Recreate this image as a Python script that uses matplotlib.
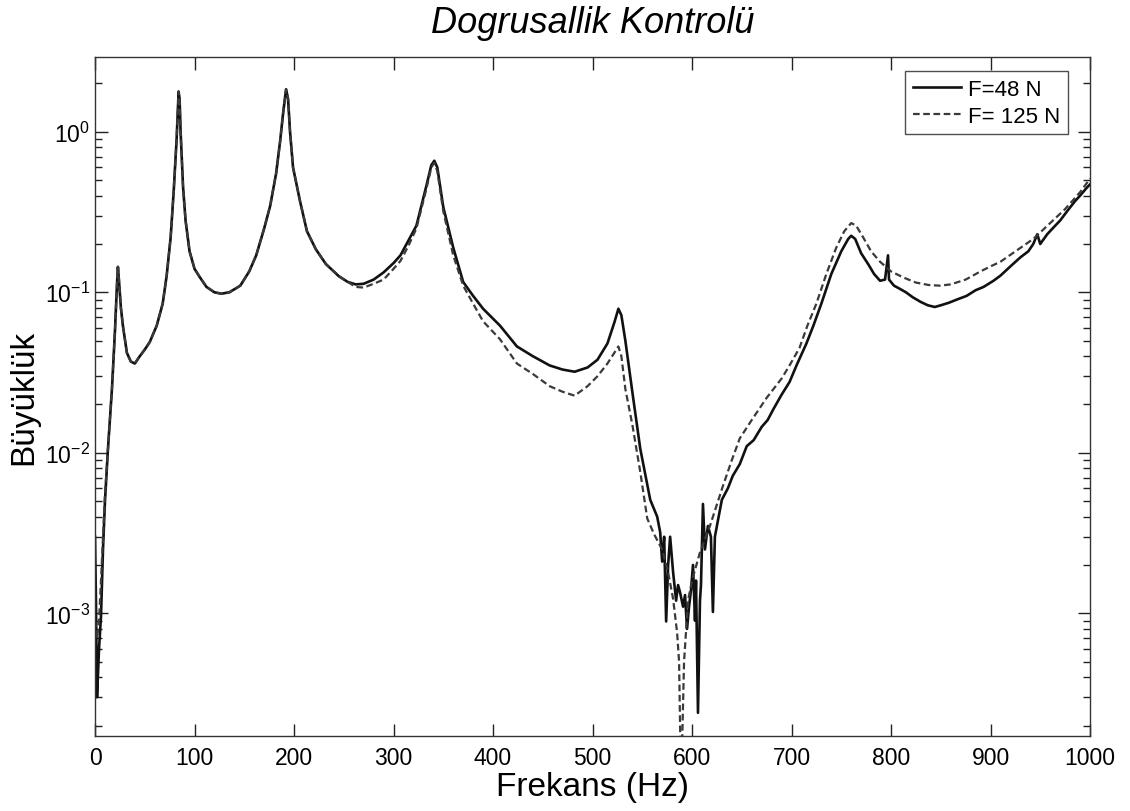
import numpy as np
import matplotlib
matplotlib.use("Agg")
import matplotlib.pyplot as plt
from matplotlib.ticker import LogLocator, FixedLocator, NullFormatter

plt.rcParams['font.family'] = ['Liberation Sans', 'DejaVu Sans']
plt.rcParams['mathtext.fontset'] = 'custom'
plt.rcParams['mathtext.rm'] = 'Liberation Sans'
plt.rcParams['mathtext.it'] = 'Liberation Sans:italic'

# start of each measurement (0-13 Hz)
f_start_48 = [0, 1, 2, 4, 6, 8, 10]
mag_start_48 = [0.003, 0.0011, 0.0003, 0.0006, 0.00096, 0.0025, 0.005]
f_start_125 = [0, 2, 4, 6, 8, 10]
mag_start_125 = [0.0009, 0.0007, 0.0009, 0.0016, 0.003, 0.0055]

# both forces give the same response here (13-254 Hz)
f_shared = [13, 17, 20, 22, 23, 24, 26, 28, 32, 36, 40, 45, 50, 55, 62, 68,
            72, 76, 79, 82, 84, 85, 86, 88.5, 91, 95, 100, 105, 112, 120, 127,
            135, 146, 155, 162, 170, 176, 182, 186, 189, 192, 194, 196, 199,
            206, 213, 222, 232, 245, 254]
mag_shared = [0.0106, 0.025, 0.057, 0.11, 0.144, 0.12, 0.08, 0.062, 0.042,
              0.037, 0.036, 0.04, 0.044, 0.049, 0.062, 0.085, 0.127, 0.22,
              0.42, 0.9, 1.78, 1.6, 1.0, 0.45, 0.28, 0.18, 0.14, 0.125, 0.108,
              0.1, 0.098, 0.1, 0.11, 0.135, 0.17, 0.25, 0.345, 0.55, 0.87,
              1.3, 1.84, 1.6, 1.0, 0.6, 0.37, 0.24, 0.185, 0.15, 0.126, 0.116]

# F = 48 N above 254 Hz
f_end_48 = [262, 270, 280, 290, 300, 307, 315, 323, 333, 338, 341, 344, 350,
            360, 370, 380, 390, 407, 424, 440, 457, 470, 482, 495, 505, 515,
            522, 526, 529, 533, 540, 548, 558, 565, 568, 570, 572, 574, 576,
            578, 581, 584, 586, 588, 591, 593, 595, 597, 599, 601, 603, 604,
            606, 608, 609, 611, 613, 616, 619, 621, 623, 625, 630, 636, 641,
            648, 655, 662, 670, 676, 682, 690, 698, 705, 715, 722, 730, 740,
            750, 757, 760, 764, 770, 777, 783, 789, 794, 797, 798, 803, 809,
            815, 822, 830, 837, 844, 850, 858, 866, 876, 885, 893, 903, 910,
            920, 930, 938, 943, 947, 950, 957, 965, 970, 977, 985, 990, 997,
            1000]
mag_end_48 = [0.112, 0.113, 0.12, 0.133, 0.152, 0.17, 0.21, 0.26, 0.46, 0.62,
              0.66, 0.6, 0.34, 0.19, 0.116, 0.095, 0.079, 0.062, 0.046, 0.04,
              0.035, 0.033, 0.032, 0.034, 0.038, 0.048, 0.065, 0.079, 0.072,
              0.05, 0.024, 0.0106, 0.0051, 0.004, 0.0032, 0.0021, 0.003,
              0.00089, 0.002, 0.003, 0.0018, 0.0012, 0.0015, 0.00135, 0.0011,
              0.0013, 0.0008, 0.0011, 0.0014, 0.002, 0.0009, 0.0016, 0.00024,
              0.0012, 0.0015, 0.0048, 0.0025, 0.0035, 0.003, 0.00102, 0.003,
              0.0035, 0.0051, 0.006, 0.0072, 0.0085, 0.011, 0.012, 0.0145,
              0.016, 0.0188, 0.023, 0.0276, 0.035, 0.048, 0.062, 0.085, 0.13,
              0.18, 0.215, 0.225, 0.215, 0.175, 0.15, 0.13, 0.118, 0.12, 0.17,
              0.12, 0.11, 0.105, 0.1, 0.093, 0.087, 0.083, 0.081, 0.083, 0.086,
              0.09, 0.095, 0.103, 0.108, 0.118, 0.127, 0.145, 0.165, 0.18, 0.2,
              0.23, 0.2, 0.23, 0.26, 0.28, 0.32, 0.37, 0.4, 0.45, 0.47]

# F = 125 N above 254 Hz
f_end_125 = [262, 270, 280, 290, 300, 307, 315, 323, 333, 338, 341, 344, 350,
             360, 370, 380, 390, 407, 424, 440, 457, 470, 482, 495, 505, 515,
             522, 526, 529, 533, 540, 548, 555, 562, 570, 576, 581, 585, 587,
             589, 592, 596, 600, 608, 618, 631, 640, 648, 660, 675, 690, 698,
             708, 716, 725, 735, 745, 753, 760, 765, 772, 780, 789, 800, 812,
             825, 838, 849, 860, 875, 890, 900, 910, 925, 943, 960, 975, 990,
             1000]
mag_end_125 = [0.108, 0.107, 0.113, 0.12, 0.14, 0.157, 0.195, 0.25, 0.44, 0.6,
               0.64, 0.57, 0.32, 0.17, 0.11, 0.085, 0.066, 0.051, 0.036, 0.031,
               0.026, 0.024, 0.0227, 0.026, 0.03, 0.036, 0.042, 0.046, 0.04,
               0.025, 0.015, 0.0076, 0.0039, 0.0031, 0.0025, 0.0018, 0.00123,
               0.00076, 0.0005, 0.00008, 0.0005, 0.0012, 0.0016, 0.0024,
               0.0035, 0.0062, 0.009, 0.0123, 0.016, 0.022, 0.029, 0.035,
               0.045, 0.062, 0.085, 0.13, 0.19, 0.24, 0.27, 0.26, 0.22, 0.18,
               0.155, 0.135, 0.124, 0.115, 0.111, 0.11, 0.112, 0.12, 0.135,
               0.145, 0.155, 0.18, 0.215, 0.27, 0.33, 0.42, 0.51]

f48 = f_start_48 + f_shared + f_end_48
m48 = mag_start_48 + mag_shared + mag_end_48
f125 = f_start_125 + f_shared + f_end_125
m125 = mag_start_125 + mag_shared + mag_end_125

fig = plt.figure(figsize=(11.3, 8.12), dpi=100)
ax = fig.add_axes([0.0841, 0.0924, 0.8805, 0.8362])

ax.semilogy(f48, m48, color='#111111', lw=1.9, label='F=48 N')
ax.semilogy(f125, m125, color='#3a3a3a', lw=1.6, ls=(0, (3, 1.6)),
            label='F= 125 N')

ax.set_xlim(0, 1000)
ax.set_ylim(10 ** -3.764, 10 ** 0.466)
ax.set_xticks(np.arange(0, 1001, 100))
ax.yaxis.set_major_locator(FixedLocator([1e-3, 1e-2, 1e-1, 1e0]))
ax.yaxis.set_minor_locator(LogLocator(base=10, subs=np.arange(2, 10)))
ax.yaxis.set_minor_formatter(NullFormatter())

ax.tick_params(which='both', direction='in', top=True, right=True,
               labelsize=16.5, color='#222222')
ax.tick_params(which='major', length=9, width=1)
ax.tick_params(which='minor', length=5, width=1)
ax.tick_params(axis='x', pad=7)
for sp in ax.spines.values():
    sp.set_color('#333333')
    sp.set_linewidth(1)

ax.set_title('Dogrusallik Kontrolü', fontsize=26, style='italic', pad=18)
ax.set_xlabel('Frekans (Hz)', fontsize=24, labelpad=2)
ax.set_ylabel('Büyüklük', fontsize=24, labelpad=4)

leg = ax.legend(loc='upper right', bbox_to_anchor=(0.978, 0.979),
                borderaxespad=0, fontsize=16, frameon=True, fancybox=False,
                handlelength=2.2, handletextpad=0.3, labelspacing=0.25,
                borderpad=0.35)
leg.get_frame().set_edgecolor('#222222')
leg.get_frame().set_linewidth(1)

fig.savefig('out.png', dpi=100, facecolor='white')
